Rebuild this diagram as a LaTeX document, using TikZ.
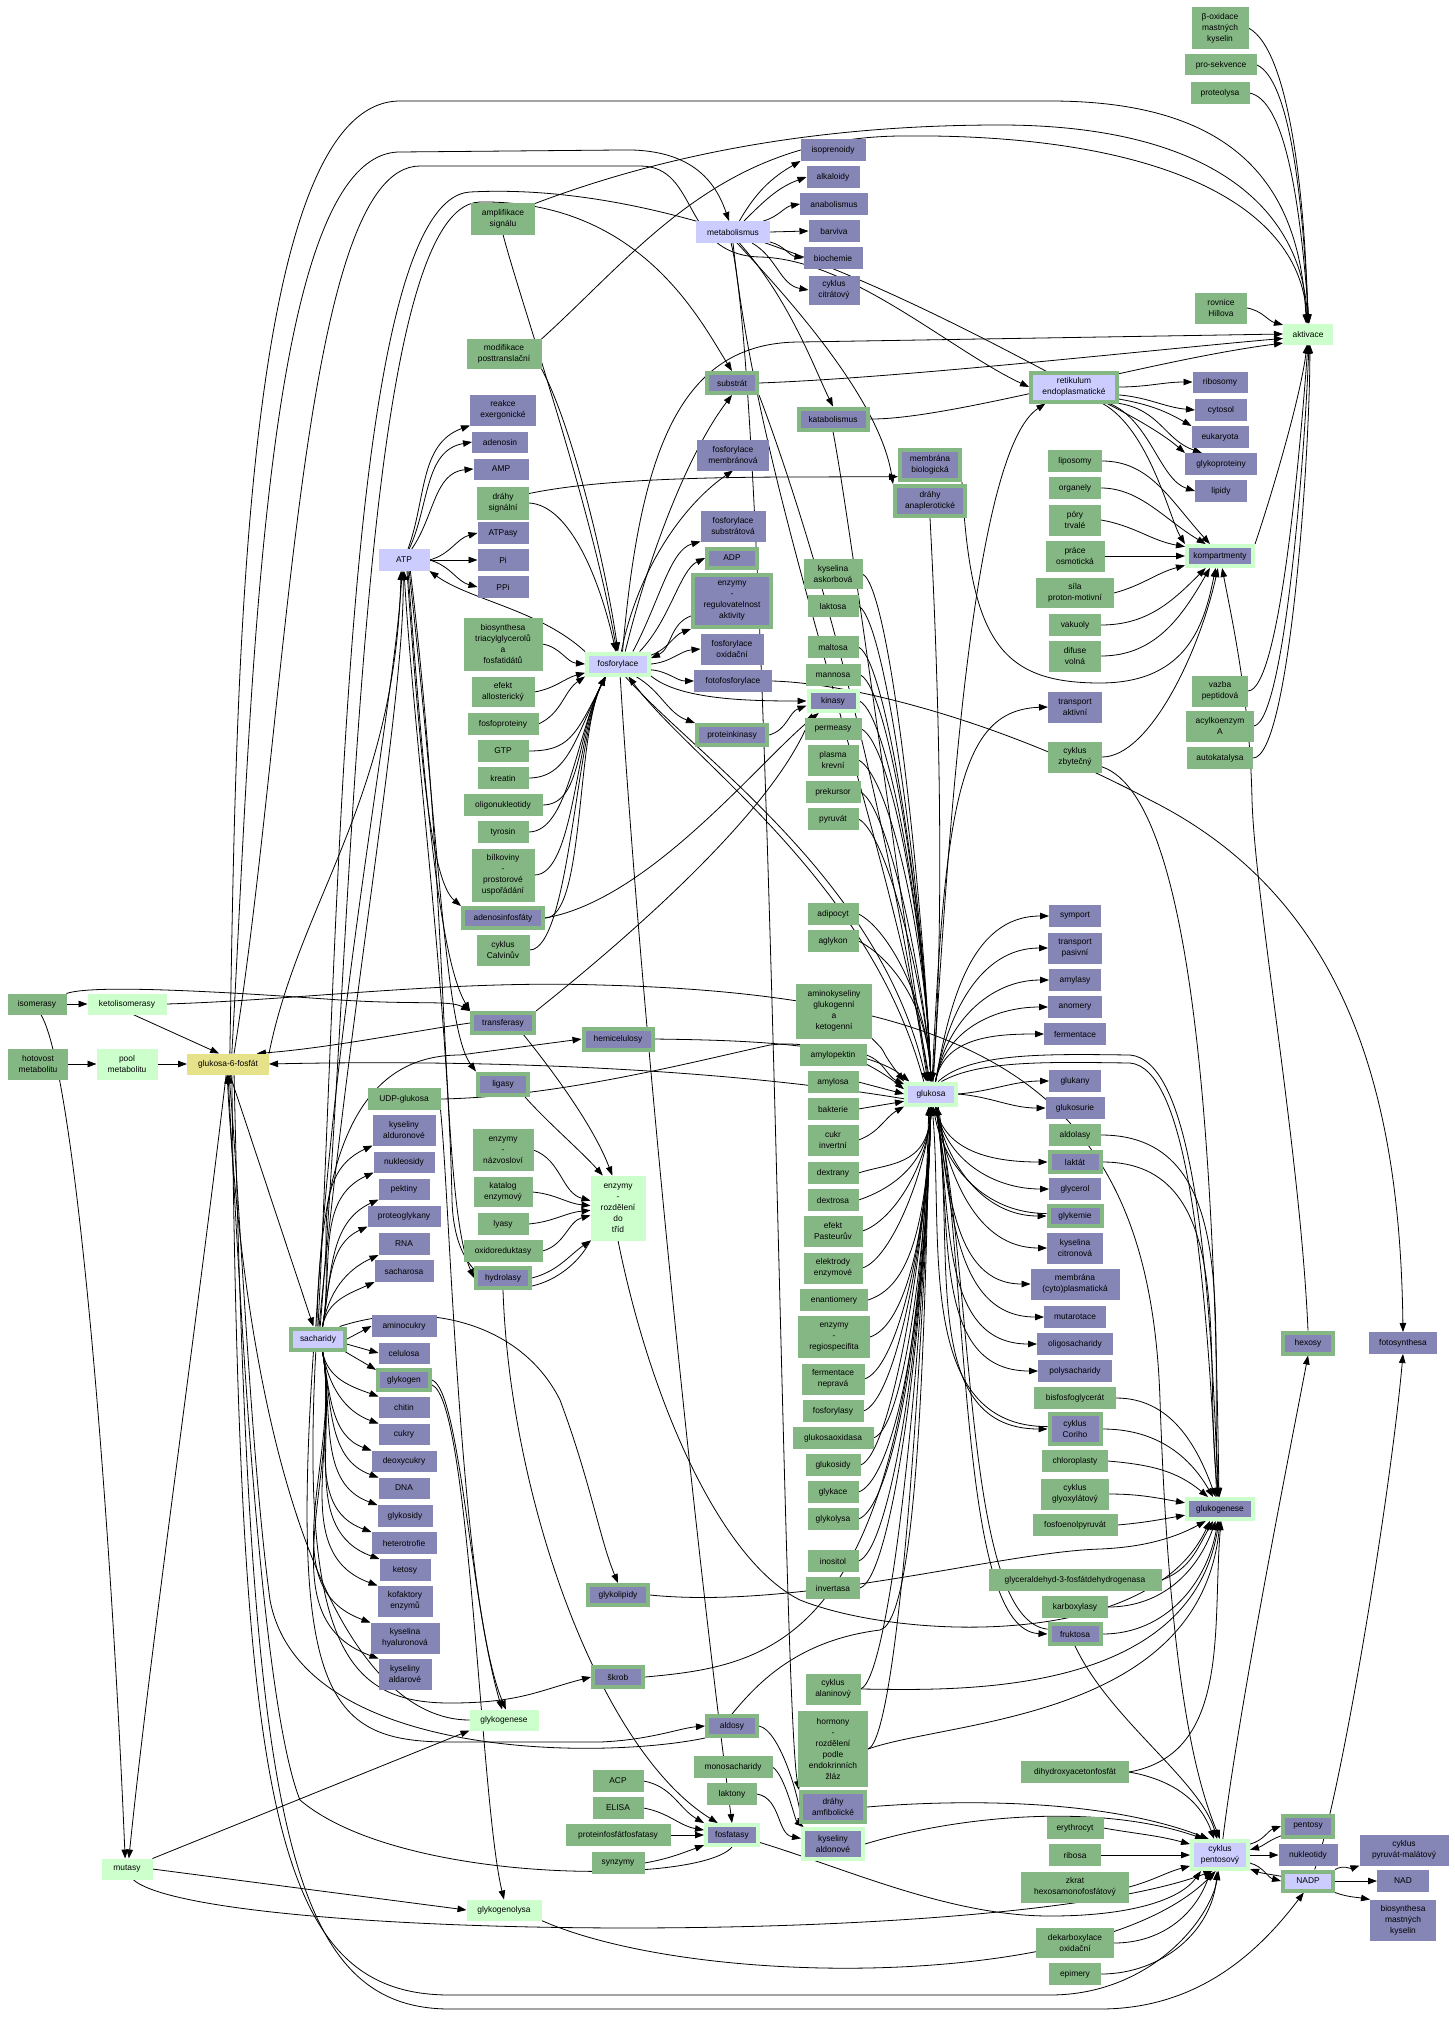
\documentclass[tikz,border=0pt]{standalone}
\usepackage{fontspec}
\setmainfont{Liberation Sans}
\usetikzlibrary{arrows.meta}
\definecolor{cG}{RGB}{133,183,133}
\definecolor{cP}{RGB}{133,133,182}
\definecolor{cL}{RGB}{204,204,255}
\definecolor{cPG}{RGB}{204,255,204}
\definecolor{cY}{RGB}{230,226,138}
\newcommand\nf{\fontsize{8.4}{11}\selectfont}
\newcommand\nd[7]{\node[#6,minimum width=#4pt,minimum height=#5pt] (#1) at (#2,-#3) {#7};}
\newcommand\ndb[7]{\node[#6,minimum width={#4pt-4pt},minimum height={#5pt-4pt}] (#1) at (#2,-#3) {#7};}
\pgfdeclarelayer{edges}
\pgfsetlayers{edges,main}
\tikzset{
 nb/.style={inner sep=0pt,outer sep=0pt,font=\nf,align=center,text=black},
 gn/.style={nb,fill=cG},
 pn/.style={nb,fill=cP},
 ln/.style={nb,fill=cL},
 pgn/.style={nb,fill=cPG},
 yn/.style={nb,fill=cY},
 bG/.style={draw=cG,line width=4pt,outer sep=2pt},
 bPG/.style={draw=cPG,line width=4pt,outer sep=2pt},
 edg/.style={draw=black,line width=0.8pt,-{Triangle[length=9pt,width=6.5pt]}},
}
\begin{document}
\begin{tikzpicture}[x=1pt,y=1pt]
\useasboundingbox (0,0) rectangle (1455,-2020);
% ---------- nodes ----------
\nd{beta}{1220}{28}{57}{42}{gn}{β-oxidace\\mastných\\kyselin}
\nd{prosek}{1221}{65}{72}{21}{gn}{pro-sekvence}
\nd{proteol}{1220}{93}{59}{22}{gn}{proteolysa}
\nd{rovnice}{1221}{308}{52}{31}{gn}{rovnice\\Hillova}
\nd{aktivace}{1308}{334}{50}{21}{pgn}{aktivace}
\ndb{retik}{1074}{387}{90}{33}{ln,bG}{retikulum\\endoplasmatické}
\nd{ribosomy}{1220}{382}{55}{21}{pn}{ribosomy}
\nd{cytosol}{1221}{410}{52}{22}{pn}{cytosol}
\nd{eukaryota}{1220}{437}{57}{22}{pn}{eukaryota}
\nd{glykoprot}{1221}{464}{72}{22}{pn}{glykoproteiny}
\nd{lipidy}{1221}{491}{52}{22}{pn}{lipidy}
\nd{liposomy}{1075}{461}{54}{22}{gn}{liposomy}
\nd{organely}{1075}{488}{52}{22}{gn}{organely}
\nd{pory}{1075}{520}{52}{31}{gn}{póry\\trvalé}
\nd{prace}{1075}{556}{59}{31}{gn}{práce\\osmotická}
\nd{sila}{1075}{593}{78}{30}{gn}{síla\\proton-motivní}
\nd{vakuoly}{1075}{625}{52}{22}{gn}{vakuoly}
\nd{difuse}{1075}{656}{52}{31}{gn}{difuse\\volná}
\ndb{kompart}{1220}{556}{70}{24}{pn,bPG}{kompartmenty}
\nd{transakt}{1075}{707}{54}{31}{pn}{transport\\aktivní}
\nd{cyklzbyt}{1075}{757}{54}{31}{gn}{cyklus\\zbytečný}
\nd{vazba}{1220}{691}{56}{31}{gn}{vazba\\peptidová}
\nd{acyl}{1220}{726}{68}{31}{gn}{acylkoenzym\\A}
\nd{autokat}{1220}{758}{66}{22}{gn}{autokatalysa}
\nd{symport}{1075}{916}{52}{22}{pn}{symport}
\nd{transpas}{1075}{948}{54}{31}{pn}{transport\\pasivní}
\nd{amylasy}{1075}{980}{52}{22}{pn}{amylasy}
\nd{anomery}{1075}{1007}{54}{22}{pn}{anomery}
\nd{fermentace}{1075}{1034}{62}{22}{pn}{fermentace}
\nd{glukany}{1075}{1081}{52}{22}{pn}{glukany}
\nd{glukosurie}{1075}{1108}{59}{22}{pn}{glukosurie}
\nd{aldolasy}{1075}{1135}{52}{22}{gn}{aldolasy}
\ndb{laktat}{1075}{1162}{55}{24}{pn,bG}{laktát}
\nd{glycerol}{1075}{1189}{52}{22}{pn}{glycerol}
\ndb{glykemie}{1075}{1216}{57}{24}{pn,bG}{glykemie}
\nd{kyscitr}{1075}{1248}{56}{31}{pn}{kyselina\\citronová}
\nd{membcyto}{1075}{1284}{89}{31}{pn}{membrána\\(cyto)plasmatická}
\nd{mutarot}{1075}{1317}{62}{22}{pn}{mutarotace}
\nd{oligosach}{1075}{1344}{76}{22}{pn}{oligosacharidy}
\nd{polysach}{1075}{1371}{74}{22}{pn}{polysacharidy}
\nd{bisfos}{1075}{1398}{82}{22}{gn}{bisfosfoglycerát}
\ndb{coriho}{1075}{1429}{55}{34}{pn,bG}{cyklus\\Coriho}
\nd{chloro}{1075}{1461}{66}{22}{gn}{chloroplasty}
\nd{glyox}{1075}{1494}{68}{31}{gn}{cyklus\\glyoxylátový}
\nd{fosfoenol}{1075}{1525}{85}{22}{gn}{fosfoenolpyruvát}
\ndb{glukogenese}{1220}{1509}{70}{24}{pn,bPG}{glukogenese}
\nd{glycerald}{1075}{1580}{173}{22}{gn}{glyceraldehyd-3-fosfátdehydrogenasa}
\nd{karbox}{1075}{1607}{66}{22}{gn}{karboxylasy}
\ndb{fruktosa}{1075}{1634}{55}{24}{pn,bG}{fruktosa}
\nd{dihydroxy}{1075}{1772}{108}{22}{gn}{dihydroxyacetonfosfát}
\nd{erythro}{1075}{1828}{57}{22}{gn}{erythrocyt}
\nd{ribosa}{1075}{1855}{52}{22}{gn}{ribosa}
\nd{zkrat}{1075}{1887}{108}{31}{gn}{zkrat\\hexosamonofosfátový}
\nd{dekarb}{1075}{1943}{78}{30}{gn}{dekarboxylace\\oxidační}
\nd{epimery}{1075}{1974}{52}{22}{gn}{epimery}
\ndb{cpent}{1220}{1855}{60}{32}{ln,bPG}{cyklus\\pentosový}
\ndb{pentosy}{1308}{1826}{54}{25}{pn,bG}{pentosy}
\nd{nukleotidy}{1308}{1855}{59}{22}{pn}{nukleotidy}
\ndb{NADP}{1308}{1881}{54}{23}{ln,bG}{NADP}
\nd{pyrmal}{1404}{1850}{89}{31}{pn}{cyklus\\pyruvát-malátový}
\nd{NAD}{1403}{1881}{52}{22}{pn}{NAD}
\nd{biosmast}{1403}{1920}{66}{41}{pn}{biosynthesa\\mastných\\kyselin}
\ndb{hexosy}{1308}{1343}{54}{25}{pn,bG}{hexosy}
\nd{fotosyn}{1403}{1343}{68}{22}{pn}{fotosynthesa}
% column 833
\nd{isopren}{833}{150}{65}{22}{pn}{isoprenoidy}
\nd{alkaloidy}{833}{177}{53}{22}{pn}{alkaloidy}
\nd{anabol}{834}{204}{68}{22}{pn}{anabolismus}
\nd{barviva}{834}{231}{51}{22}{pn}{barviva}
\nd{biochemie}{833}{258}{59}{22}{pn}{biochemie}
\nd{cyklcitr}{834}{290}{51}{29}{pn}{cyklus\\citrátový}
\ndb{katabol}{833}{419}{73}{25}{pn,bG}{katabolismus}
\nd{kysask}{833}{574}{59}{30}{gn}{kyselina\\askorbová}
\nd{laktosa}{833}{606}{51}{22}{gn}{laktosa}
\nd{maltosa}{833}{647}{51}{22}{gn}{maltosa}
\nd{mannosa}{833}{675}{55}{22}{gn}{mannosa}
\ndb{kinasy}{833}{701}{53}{24}{pn,bPG}{kinasy}
\nd{permeasy}{833}{729}{57}{22}{gn}{permeasy}
\nd{plasma}{833}{760}{51}{31}{gn}{plasma\\krevní}
\nd{prekursor}{833}{792}{55}{22}{gn}{prekursor}
\nd{pyruvat}{833}{819}{51}{22}{gn}{pyruvát}
\nd{adipocyt}{833}{914}{51}{22}{gn}{adipocyt}
\nd{aglykon}{833}{941}{51}{22}{gn}{aglykon}
\nd{aminok}{834}{1011}{76}{55}{gn}{aminokyseliny\\glukogenní\\a\\ketogenní}
\nd{amylopektin}{833}{1055}{67}{22}{gn}{amylopektin}
\nd{amylosa}{833}{1082}{51}{22}{gn}{amylosa}
\nd{bakterie}{833}{1109}{51}{22}{gn}{bakterie}
\nd{cukrinv}{833}{1140}{51}{31}{gn}{cukr\\invertní}
\nd{dextrany}{833}{1173}{51}{22}{gn}{dextrany}
\nd{dextrosa}{833}{1200}{51}{22}{gn}{dextrosa}
\nd{pasteur}{833}{1231}{59}{31}{gn}{efekt\\Pasteurův}
\nd{elektrody}{833}{1268}{59}{31}{gn}{elektrody\\enzymové}
\nd{enantio}{834}{1300}{68}{22}{gn}{enantiomery}
\nd{regiospec}{834}{1337}{72}{42}{gn}{enzymy\\-\\regiospecifita}
\nd{fermnepr}{833}{1379}{63}{31}{gn}{fermentace\\nepravá}
\nd{fosforylasy}{833}{1411}{61}{22}{gn}{fosforylasy}
\nd{glukosaox}{833}{1438}{81}{22}{gn}{glukosaoxidasa}
\nd{glukosidy}{833}{1465}{55}{22}{gn}{glukosidy}
\nd{glykace}{833}{1492}{51}{22}{gn}{glykace}
\nd{glykolysa}{833}{1519}{51}{22}{gn}{glykolysa}
\nd{inositol}{833}{1561}{51}{22}{gn}{inositol}
\nd{invertasa}{833}{1588}{54}{22}{gn}{invertasa}
\nd{cyklalan}{833}{1689}{55}{31}{gn}{cyklus\\alaninový}
\nd{hormony}{833}{1749}{70}{76}{gn}{hormony\\-\\rozdělení\\podle\\endokrinních\\žláz}
\ndb{drahyamf}{833}{1807}{68}{34}{pn,bG}{dráhy\\amfibolické}
\ndb{kysaldon}{833}{1844}{64}{34}{pn,bPG}{kyseliny\\aldonové}
% column 931
\ndb{glukosa}{931}{1094}{54}{25}{ln,bPG}{glukosa}
\ndb{membrbio}{930}{465}{64}{34}{pn,bG}{membrána\\biologická}
\ndb{drahyana}{930}{501}{74}{34}{pn,bG}{dráhy\\anaplerotické}
% column 733
\nd{metabol}{733}{232}{74}{22}{ln}{metabolismus}
\ndb{substrat}{732}{383}{54}{24}{pn,bG}{substrát}
\nd{fmemb}{733}{455}{72}{31}{pn}{fosforylace\\membránová}
\nd{fsubst}{733}{526}{65}{31}{pn}{fosforylace\\substrátová}
\ndb{ADP}{732}{558}{54}{23}{pn,bG}{ADP}
\ndb{enzreg}{732}{601}{82}{56}{pn,bG}{enzymy\\-\\regulovatelnost\\aktivity}
\nd{foxid}{732}{649}{63}{31}{pn}{fosforylace\\oxidační}
\nd{fotofos}{733}{681}{78}{22}{pn}{fotofosforylace}
\ndb{protkin}{732}{735}{74}{24}{pn,bG}{proteinkinasy}
\ndb{aldosy}{732}{1726}{54}{24}{pn,bG}{aldosy}
\nd{monosach}{733}{1767}{79}{22}{gn}{monosacharidy}
\nd{laktony}{732}{1794}{50}{22}{gn}{laktony}
\ndb{fosfatasy}{732}{1835}{56}{24}{pn,bPG}{fosfatasy}
% column 618
\ndb{fos}{618}{664}{66}{25}{ln,bPG}{fosforylace}
\ndb{hemicel}{618}{1039}{73}{25}{pn,bG}{hemicelulosy}
\nd{ettrid}{618}{1208}{55}{65}{pgn}{enzymy\\-\\rozdělení\\do\\tříd}
\ndb{glykolip}{618}{1595}{64}{24}{pn,bG}{glykolipidy}
\ndb{skrob}{618}{1677}{54}{24}{pn,bG}{škrob}
\nd{ACP}{618}{1781}{51}{22}{gn}{ACP}
\nd{ELISA}{618}{1808}{51}{22}{gn}{ELISA}
\nd{protfosf}{618}{1835}{105}{22}{gn}{proteinfosfátfosfatasy}
\nd{synzymy}{618}{1863}{53}{22}{gn}{synzymy}
% column 503
\nd{amplif}{503}{219}{64}{31}{gn}{amplifikace\\signálu}
\nd{modif}{504}{354}{75}{30}{gn}{modifikace\\posttranslační}
\nd{reakce}{503}{410}{66}{31}{pn}{reakce\\exergonické}
\nd{adenosin}{500}{442}{56}{21}{pn}{adenosin}
\nd{AMP}{501}{469}{55}{21}{pn}{AMP}
\nd{drahysig}{503}{503}{52}{33}{gn}{dráhy\\signální}
\nd{ATPasy}{503}{533}{51}{22}{pn}{ATPasy}
\nd{Pi}{503}{560}{51}{22}{pn}{Pi}
\nd{PPi}{503}{587}{51}{22}{pn}{PPi}
\nd{biosyntri}{503}{644}{79}{53}{gn}{biosynthesa\\triacylglycerolů\\a\\fosfatidátů}
\nd{efallo}{503}{692}{63}{30}{gn}{efekt\\allosterický}
\nd{fosfoprot}{503}{724}{71}{22}{gn}{fosfoproteiny}
\nd{GTP}{503}{751}{51}{22}{gn}{GTP}
\nd{kreatin}{503}{778}{51}{22}{gn}{kreatin}
\nd{oligonuk}{503}{805}{79}{22}{gn}{oligonukleotidy}
\nd{tyrosin}{503}{832}{51}{22}{gn}{tyrosin}
\nd{bilkoviny}{503}{875}{63}{53}{gn}{bílkoviny\\-\\prostorové\\uspořádání}
\ndb{adenfosf}{503}{918}{84}{24}{pn,bG}{adenosinfosfáty}
\nd{calvin}{503}{950}{53}{31}{gn}{cyklus\\Calvinův}
\ndb{transf}{503}{1023}{66}{24}{pn,bG}{transferasy}
\ndb{ligasy}{503}{1084}{54}{25}{pn,bG}{ligasy}
\nd{enznaz}{503}{1150}{61}{42}{gn}{enzymy\\-\\názvosloví}
\nd{katalog}{503}{1192}{59}{30}{gn}{katalog\\enzymový}
\nd{lyasy}{503}{1224}{51}{22}{gn}{lyasy}
\nd{oxidored}{503}{1251}{79}{22}{gn}{oxidoreduktasy}
\ndb{hydrol}{503}{1278}{58}{24}{pn,bG}{hydrolasy}
\nd{glykogenese}{504}{1720}{69}{21}{pgn}{glykogenese}
\nd{glykogenolysa}{504}{1910}{75}{21}{pgn}{glykogenolysa}
% column 404
\nd{ATP}{404}{560}{51}{22}{ln}{ATP}
\nd{UDP}{404}{1099}{73}{22}{gn}{UDP-glukosa}
\nd{kysaldur}{404}{1130}{63}{31}{pn}{kyseliny\\alduronové}
\nd{nukleosidy}{404}{1162}{61}{21}{pn}{nukleosidy}
\nd{pektiny}{404}{1189}{51}{21}{pn}{pektiny}
\nd{proteogl}{404}{1216}{73}{21}{pn}{proteoglykany}
\nd{RNA}{404}{1244}{51}{22}{pn}{RNA}
\nd{sacharosa}{404}{1271}{59}{22}{pn}{sacharosa}
\nd{aminocukry}{404}{1326}{65}{22}{pn}{aminocukry}
\nd{celulosa}{404}{1353}{51}{21}{pn}{celulosa}
\ndb{glykogen}{404}{1380}{56}{24}{pn,bG}{glykogen}
\nd{chitin}{404}{1407}{51}{21}{pn}{chitin}
\nd{cukry}{404}{1434}{51}{21}{pn}{cukry}
\nd{deoxycukry}{404}{1461}{65}{21}{pn}{deoxycukry}
\nd{DNA}{404}{1488}{51}{21}{pn}{DNA}
\nd{glykosidy}{405}{1516}{55}{22}{pn}{glykosidy}
\nd{heterotrofie}{404}{1543}{65}{22}{pn}{heterotrofie}
\nd{ketosy}{405}{1570}{51}{22}{pn}{ketosy}
\nd{kofaktory}{405}{1601}{55}{31}{pn}{kofaktory\\enzymů}
\nd{hyaluron}{405}{1638}{69}{31}{pn}{kyselina\\hyaluronová}
\nd{aldarove}{405}{1674}{53}{31}{pn}{kyseliny\\aldarové}
% left
\ndb{sacharidy}{318}{1339}{58}{25}{ln,bG}{sacharidy}
\nd{g6f}{228}{1064}{82}{21}{yn}{glukosa-6-fosfát}
\nd{ketoliso}{127}{1004}{79}{21}{pgn}{ketolisomerasy}
\nd{pool}{127}{1064}{61}{31}{pgn}{pool\\metabolitu}
\nd{mutasy}{127}{1869}{51}{21}{pgn}{mutasy}
\nd{isomerasy}{37}{1004}{59}{21}{gn}{isomerasy}
\nd{hotovost}{38}{1064}{60}{31}{gn}{hotovost\\metabolitu}
% ---------- edges ----------
\begin{pgfonlayer}{edges}
\fill[white] (0,0) rectangle (1455,-2020);
% left cluster
\draw[edg] (isomerasy) -- (ketoliso);
\draw[edg] (hotovost) -- (pool);
\draw[edg] (pool) -- (g6f);
\draw[edg] (ketoliso.-60) -- (g6f.130);
\draw[edg] (isomerasy.-70) .. controls (75,-1070) and (110,-1500) .. (mutasy.100);
\draw[edg] (g6f.-100) .. controls (200,-1300) and (150,-1650) .. (mutasy.80);
\draw[edg] (mutasy.north east) -- (glykogenese.south west);
\draw[edg] (mutasy.east) -- (glykogenolysa.west);
\draw[edg] (mutasy.-60) .. controls (200,-1940) and (1000,-1950) .. (cpent.-115);
\draw[edg] (isomerasy.north east) .. controls (90,-985) and (200,-990) .. (340,-1000) .. controls (420,-1005) and (450,-1000) .. (transf.160);
\draw[edg] (ketoliso.east) .. controls (300,-1000) and (450,-980) .. (600,-985) .. controls (1000,-995) and (1150,-1100) .. (1160,-1400) .. controls (1170,-1700) and (1200,-1790) .. (cpent.north);
% g6f long
\draw[edg] (g6f.-80) -- (sacharidy.110);
\draw[edg] (g6f.80) .. controls (236,-700) and (240,-101) .. (400,-101) -- (1050,-101) .. controls (1230,-101) and (1300,-180) .. (aktivace.100);
\draw[edg] (g6f.70) .. controls (252,-700) and (262,-152) .. (400,-152) -- (620,-150) .. controls (690,-148) and (715,-180) .. (metabol.110);
\draw[edg] (g6f.60) .. controls (290,-700) and (300,-166) .. (420,-166) -- (640,-166) .. controls (700,-166) and (680,-255) .. (760,-257) .. controls (850,-259) and (950,-350) .. (retik.west);
\draw[edg] (glukosa.190) .. controls (700,-1065) and (450,-1060) .. (g6f.east);
\draw[edg] (transf.west) .. controls (420,-1030) and (330,-1048) .. (g6f.20);
\draw[edg] (g6f.-60) .. controls (250,-1800) and (280,-2009) .. (450,-2009) -- (1100,-2009) .. controls (1200,-2009) and (1260,-1950) .. (NADP.-110);
\draw[edg] (g6f.-70) .. controls (240,-1800) and (270,-1995) .. (450,-1995) -- (1050,-1995) .. controls (1150,-1995) and (1210,-1920) .. (cpent.-95);
\draw[edg] (glykogenese.west) .. controls (350,-1720) and (250,-1500) .. (g6f.-95);
\draw[edg] (fosfatasy.south) .. controls (700,-1885) and (400,-1885) .. (300,-1800) .. controls (260,-1700) and (240,-1300) .. (g6f.-90);
\draw[edg] (aldosy.south west) .. controls (600,-1760) and (300,-1760) .. (270,-1600) .. controls (250,-1450) and (240,-1200) .. (g6f.-85);
% sacharidy
\draw[edg] (sacharidy.north) .. controls (340,-900) and (345,-200) .. (470,-192) .. controls (700,-180) and (950,-320) .. (1100,-400) .. controls (1150,-425) and (1170,-440) .. (glykoprot.north west);
\draw[edg] (sacharidy.80) .. controls (355,-900) and (360,-205) .. (480,-202) .. controls (640,-200) and (700,-320) .. (substrat.north);
\foreach \cc in {kysaldur,nukleosidy,pektiny,proteogl,RNA,sacharosa} \draw[edg] (sacharidy.70) to[out=80,in=205] (\cc.south west);
\draw[edg] (sacharidy.east) -- (aminocukry.west);
\draw[edg] (sacharidy.-10) -- (celulosa.west);
\draw[edg] (sacharidy.-25) -- (glykogen.160);
\foreach \cc in {chitin,cukry,deoxycukry,DNA,glykosidy,heterotrofie,ketosy,kofaktory,hyaluron,aldarove} \draw[edg] (sacharidy.-70) to[out=-80,in=160] (\cc.north west);
\draw[edg] (sacharidy.-100) .. controls (300,-1650) and (350,-1703) .. (450,-1703) .. controls (520,-1703) and (540,-1690) .. (skrob.west);
\draw[edg] (sacharidy.-110) .. controls (290,-1700) and (330,-1742) .. (450,-1742) -- (600,-1742) .. controls (650,-1740) and (680,-1728) .. (aldosy.west);
\draw[edg] (sacharidy.30) .. controls (420,-1300) and (520,-1320) .. (560,-1400) .. controls (590,-1480) and (600,-1540) .. (glykolip.north);
\draw[edg] (sacharidy.95) .. controls (320,-1150) and (360,-1055) .. (460,-1055) -- (hemicel.west);
\draw[edg] (UDP.east) .. controls (560,-1097) and (700,-1060) .. (770,-1045) .. controls (830,-1038) and (880,-1070) .. (glukosa.170);
\draw[edg] (UDP.south east) .. controls (450,-1200) and (460,-1600) .. (glykogenese.80);
\draw[edg] (glykogen.east) .. controls (460,-1390) and (470,-1600) .. (glykogenese.100);
\draw[edg] (glykogen.-10) .. controls (470,-1400) and (480,-1800) .. (glykogenolysa.north);
% ATP
\draw[edg] (ATP.70) to[out=70,in=200] (reakce.south west);
\draw[edg] (ATP.65) to[out=65,in=190] (adenosin.west);
\draw[edg] (ATP.55) to[out=55,in=185] (AMP.west);
\draw[edg] (ATP.east) to[out=15,in=195] (ATPasy.west);
\draw[edg] (ATP) -- (Pi);
\draw[edg] (ATP.east) to[out=-15,in=165] (PPi.west);
\draw[edg] (ATP.-75) .. controls (420,-750) and (430,-880) .. (adenfosf.north west);
\draw[edg] (ATP.-70) .. controls (425,-800) and (440,-960) .. (transf.north west);
\draw[edg] (ATP.-65) .. controls (440,-850) and (445,-1030) .. (ligasy.north west);
\draw[edg] (ATP.-60) .. controls (450,-900) and (440,-1200) .. (hydrol.west);
\draw[edg] (fos.north west) .. controls (540,-610) and (470,-600) .. (ATP.south east);
\draw[edg] (sacharidy.100) .. controls (335,-1000) and (395,-700) .. (ATP.-100);
\draw[edg] (sacharidy.85) .. controls (350,-1000) and (405,-700) .. (ATP.-95);
\draw[edg] (g6f.north east) .. controls (300,-900) and (395,-800) .. (ATP.-105);
\draw[edg] (ettrid.south west) .. controls (560,-1300) and (455,-1320) .. (452,-1200) .. controls (448,-1000) and (415,-750) .. (ATP.-90);
% drahy signalni, amplif, modif
\draw[edg] (drahysig.east) .. controls (570,-505) and (600,-580) .. (fos.100);
\draw[edg] (drahysig.20) .. controls (570,-485) and (640,-477) .. (800,-477) -- (membrbio.200);
\draw[edg] (amplif.south) .. controls (520,-300) and (590,-500) .. (fos.95);
\draw[edg] (modif.south east) .. controls (570,-420) and (605,-560) .. (fos.north);
\draw[edg] (amplif.north east) .. controls (650,-160) and (800,-125) .. (1000,-125) .. controls (1200,-125) and (1300,-200) .. (aktivace.north);
\draw[edg] (modif.north east) .. controls (640,-250) and (720,-138) .. (900,-136) .. controls (1150,-133) and (1300,-200) .. (aktivace.95);
% fosforylace incoming
\draw[edg] (biosyntri.east) to[out=-10,in=175] (fos.west);
\draw[edg] (efallo.east) to[out=10,in=195] (fos.195);
\draw[edg] (fosfoprot.east) to[out=25,in=215] (fos.south west);
\foreach \cc in {GTP,kreatin,oligonuk,tyrosin,bilkoviny,adenfosf,calvin} \draw[edg] (\cc.east) .. controls +(40,0) and +(-30,-60) .. (fos.-135);
% fosforylace outgoing
\draw[edg] (fos.40) .. controls (660,-600) and (670,-550) .. (fsubst.south west);
\draw[edg] (fos.30) .. controls (670,-620) and (680,-570) .. (ADP.west);
\draw[edg] (fos.15) to[out=20,in=200] (enzreg.south west);
\draw[edg] (enzreg.200) to[out=200,in=25] (fos.10);
\draw[edg] (fos.east) to[out=5,in=185] (foxid.west);
\draw[edg] (fos.-10) to[out=-5,in=180] (fotofos.west);
\draw[edg] (fos.-20) .. controls (680,-700) and (750,-701) .. (kinasy.west);
\draw[edg] (fos.-35) to[out=-30,in=160] (protkin.north west);
\draw[edg] (fos.60) .. controls (650,-550) and (690,-450) .. (substrat.south);
\draw[edg] (fos.75) .. controls (640,-560) and (690,-500) .. (fmemb.south);
\draw[edg] (fos.-60) .. controls (700,-760) and (880,-880) .. (glukosa.110);
\draw[edg] (glukosa.120) .. controls (870,-880) and (690,-760) .. (fos.-50);
\draw[edg] (fos.-80) .. controls (640,-1000) and (690,-1500) .. (fosfatasy.north);
\draw[edg] (fos.70) .. controls (640,-450) and (680,-342) .. (800,-342) -- (aktivace.west);
\draw[edg] (katabol.east) .. controls (950,-420) and (1150,-360) .. (aktivace.200);
\draw[edg] (substrat.east) .. controls (900,-378) and (1150,-350) .. (aktivace.190);
\draw[edg] (protkin.east) to[out=15,in=200] (kinasy.190);
\draw[edg] (transf.north east) .. controls (600,-960) and (770,-820) .. (kinasy.-150);
\draw[edg] (adenfosf.east) .. controls (650,-900) and (760,-760) .. (kinasy.-140);
\draw[edg] (fotofos.east) .. controls (850,-683) and (1000,-720) .. (1150,-800) .. controls (1350,-900) and (1400,-1100) .. (fotosyn.north);
% metabolismus
\draw[edg] (metabol.60) to[out=60,in=210] (isopren.south west);
\draw[edg] (metabol.45) to[out=45,in=200] (alkaloidy.west);
\draw[edg] (metabol.20) to[out=15,in=190] (anabol.west);
\draw[edg] (metabol.east) -- (barviva.west);
\draw[edg] (metabol.-15) to[out=-15,in=170] (biochemie.west);
\draw[edg] (metabol.-30) to[out=-30,in=170] (cyklcitr.west);
\draw[edg] (metabol.-60) .. controls (790,-300) and (815,-370) .. (katabol.north);
\draw[edg] (metabol.-70) .. controls (790,-300) and (880,-400) .. (drahyana.north west);
\draw[edg] (metabol.-100) .. controls (770,-400) and (782,-1700) .. (drahyamf.north west);
\draw[edg] (metabol.-90) .. controls (760,-500) and (880,-800) .. (glukosa.95);
\draw[edg] (glukosa.80) .. controls (950,-800) and (975,-450) .. (retik.-150);
\draw[edg] (katabol.south) .. controls (850,-520) and (900,-900) .. (glukosa.100);
\draw[edg] (substrat.south east) .. controls (780,-450) and (870,-700) .. (glukosa.105);
\draw[edg] (drahyana.south) .. controls (945,-800) and (940,-1000) .. (glukosa.85);
\draw[edg] (membrbio.south east) .. controls (970,-640) and (1000,-683) .. (1100,-683) .. controls (1190,-683) and (1205,-620) .. (kompart.-110);
% retikulum
\draw[edg] (retik.east) to[out=0,in=180] (ribosomy.west);
\draw[edg] (retik.-10) to[out=-5,in=175] (cytosol.west);
\draw[edg] (retik.-15) to[out=-10,in=150] (eukaryota.north west);
\draw[edg] (retik.-20) .. controls (1160,-410) and (1165,-440) .. (glykoprot.150);
\draw[edg] (retik.-25) .. controls (1150,-420) and (1160,-480) .. (lipidy.west);
\draw[edg] (retik.-30) .. controls (1150,-430) and (1170,-520) .. (kompart.north west);
% kompartmenty, aktivace
\draw[edg] (liposomy.east) .. controls (1150,-461) and (1170,-500) .. (kompart.130);
\draw[edg] (organely.east) .. controls (1140,-488) and (1165,-520) .. (kompart.140);
\draw[edg] (pory.east) to[out=-10,in=170] (kompart.165);
\draw[edg] (prace.east) -- (kompart.west);
\draw[edg] (sila.east) to[out=15,in=195] (kompart.195);
\draw[edg] (vakuoly.east) to[out=0,in=225] (kompart.-140);
\draw[edg] (difuse.east) to[out=0,in=240] (kompart.-130);
\draw[edg] (cyklzbyt.east) .. controls (1150,-757) and (1200,-650) .. (kompart.-100);
\draw[edg] (hexosy.north) .. controls (1300,-1150) and (1255,-900) .. (1252,-800) .. controls (1250,-700) and (1232,-620) .. (kompart.-80);
\draw[edg] (kompart.north east) .. controls (1270,-500) and (1300,-400) .. (aktivace.-95);
\draw[edg] (vazba.east) .. controls (1280,-690) and (1300,-450) .. (aktivace.-90);
\draw[edg] (acyl.east) .. controls (1285,-720) and (1305,-450) .. (aktivace.-85);
\draw[edg] (autokat.east) .. controls (1290,-758) and (1310,-450) .. (aktivace.-80);
\draw[edg] (beta.east) .. controls (1290,-50) and (1305,-200) .. (aktivace.90);
\draw[edg] (prosek.east) .. controls (1290,-80) and (1303,-200) .. (aktivace.87);
\draw[edg] (proteol.east) .. controls (1285,-100) and (1300,-200) .. (aktivace.84);
\draw[edg] (rovnice.east) to[out=-10,in=165] (aktivace.160);
\draw[edg] (cyklzbyt.-20) .. controls (1200,-800) and (1215,-1200) .. (glukogenese.95);
% glukosa incoming
\foreach \cc in {kysask,laktosa,maltosa,mannosa,kinasy,permeasy,plasma} \draw[edg] (\cc.east) .. controls +(30,-15) and +(-6,150) .. (glukosa.north);
\foreach \cc in {prekursor,pyruvat,adipocyt,aglykon} \draw[edg] (\cc.east) .. controls +(30,-15) and +(-4,80) .. (glukosa.north);
\draw[edg] (aminok.south east) .. controls +(20,-20) and +(-30,40) .. (glukosa.north west);
\draw[edg] (amylopektin.east) to[out=-20,in=155] (glukosa.160);
\draw[edg] (amylosa.east) -- (glukosa.west);
\draw[edg] (bakterie.east) to[out=10,in=190] (glukosa.195);
\draw[edg] (cukrinv.east) to[out=20,in=210] (glukosa.south west);
\foreach \cc in {dextrany,dextrosa,pasteur,elektrody} \draw[edg] (\cc.east) .. controls +(30,10) and +(-4,-60) .. (glukosa.south);
\foreach \cc in {enantio,regiospec,fermnepr,fosforylasy,glukosaox,glukosidy} \draw[edg] (\cc.east) .. controls +(30,10) and +(-6,-150) .. (glukosa.south);
\foreach \cc in {glykace,glykolysa,inositol,invertasa,cyklalan,hormony} \draw[edg] (\cc.east) .. controls +(30,10) and +(-8,-250) .. (glukosa.south);
\draw[edg] (aldosy.north) .. controls (760,-1680) and (800,-1640) .. (880,-1630) .. controls (920,-1620) and (925,-1300) .. (glukosa.-95);
\draw[edg] (skrob.east) .. controls (780,-1665) and (915,-1640) .. (glukosa.-100);
\draw[edg] (hemicel.east) .. controls (720,-1040) and (860,-1041) .. (glukosa.150);
% glukosa outgoing
\foreach \cc in {symport,transpas,amylasy,anomery,fermentace} \draw[edg] (glukosa.70) to[out=80,in=180] (\cc.west);
\draw[edg] (glukosa.east) to[out=5,in=180] (glukany.west);
\draw[edg] (glukosa.east) to[out=-5,in=180] (glukosurie.west);
\foreach \cc in {laktat,glycerol,glykemie,kyscitr,membcyto,mutarot,oligosach,polysach,coriho} \draw[edg] (glukosa.-70) to[out=-80,in=180] (\cc.west);
\draw[edg] (glykemie.175) to[out=180,in=-80] (glukosa.-80);
\draw[edg] (coriho.175) to[out=180,in=-85] (glukosa.-85);
\draw[edg] (glukosa.-60) .. controls (970,-1300) and (960,-1630) .. (fruktosa.west);
\draw[edg] (fruktosa.170) .. controls (965,-1620) and (975,-1300) .. (glukosa.-65);
\draw[edg] (glukosa.85) .. controls (945,-800) and (960,-710) .. (transakt.west);
\draw[edg] (glukosa.60) .. controls (970,-1052) and (1050,-1054) .. (1130,-1055) .. controls (1190,-1060) and (1210,-1250) .. (glukogenese.100);
\draw[edg] (glukosa.50) .. controls (980,-1060) and (1050,-1062) .. (1130,-1063) .. controls (1185,-1068) and (1205,-1250) .. (glukogenese.105);
% glukogenese incoming
\draw[edg] (aldolasy.east) to[out=0,in=95] (glukogenese.92);
\draw[edg] (laktat.east) to[out=0,in=97] (glukogenese.97);
\draw[edg] (bisfos.east) to[out=0,in=110] (glukogenese.110);
\draw[edg] (coriho.east) to[out=0,in=120] (glukogenese.120);
\draw[edg] (chloro.east) to[out=-5,in=140] (glukogenese.135);
\draw[edg] (glyox.east) to[out=0,in=170] (glukogenese.170);
\draw[edg] (fosfoenol.east) to[out=5,in=190] (glukogenese.190);
\draw[edg] (glycerald.east) to[out=20,in=-120] (glukogenese.-120);
\draw[edg] (karbox.east) to[out=0,in=-110] (glukogenese.-110);
\draw[edg] (fruktosa.east) to[out=0,in=-100] (glukogenese.-100);
\draw[edg] (dihydroxy.east) to[out=10,in=-95] (glukogenese.-85);
\draw[edg] (glykolip.east) .. controls (800,-1610) and (1000,-1552) .. (1100,-1549) .. controls (1150,-1547) and (1180,-1535) .. (glukogenese.-140);
\draw[edg] (cyklalan.east) .. controls (950,-1690) and (1190,-1700) .. (glukogenese.-95);
\draw[edg] (hormony.east) .. controls (950,-1720) and (1200,-1720) .. (glukogenese.-90);
\draw[edg] (ettrid.south) .. controls (650,-1400) and (720,-1560) .. (800,-1600) .. controls (900,-1640) and (1150,-1650) .. (glukogenese.-130);
% cyklus pentosovy
\draw[edg] (erythro.east) to[out=-10,in=165] (cpent.160);
\draw[edg] (ribosa.east) -- (cpent.west);
\draw[edg] (zkrat.east) to[out=15,in=195] (cpent.200);
\draw[edg] (dekarb.east) to[out=0,in=-110] (cpent.-120);
\draw[edg] (epimery.east) to[out=0,in=-95] (cpent.-100);
\draw[edg] (dihydroxy.east) to[out=-10,in=110] (cpent.110);
\draw[edg] (fruktosa.south) .. controls (1110,-1720) and (1200,-1780) .. (cpent.100);
\draw[edg] (drahyamf.east) .. controls (950,-1800) and (1100,-1797) .. (cpent.125);
\draw[edg] (kysaldon.east) .. controls (960,-1815) and (1100,-1803) .. (cpent.135);
\draw[edg] (glykogenolysa.south east) .. controls (700,-1990) and (1100,-1990) .. (cpent.-105);
\draw[edg] (fosfatasy.-15) .. controls (850,-1870) and (950,-1916) .. (1050,-1916) .. controls (1130,-1916) and (1180,-1900) .. (cpent.-140);
\draw[edg] (cpent.20) to[out=15,in=200] (pentosy.west);
\draw[edg] (pentosy.200) to[out=200,in=15] (cpent.10);
\draw[edg] (cpent.east) -- (nukleotidy.west);
\draw[edg] (cpent.-15) to[out=-15,in=165] (NADP.west);
\draw[edg] (NADP.170) to[out=170,in=-20] (cpent.-25);
\draw[edg] (NADP.north east) to[out=30,in=200] (pyrmal.south west);
\draw[edg] (NADP.east) -- (NAD.west);
\draw[edg] (NADP.south east) to[out=-20,in=170] (biosmast.north west);
\draw[edg] (NADP.60) .. controls (1340,-1800) and (1390,-1500) .. (fotosyn.south);
\draw[edg] (cpent.80) .. controls (1240,-1700) and (1290,-1450) .. (hexosy.south);
% fosfatasy, aldosy
\draw[edg] (ACP.east) to[out=-10,in=150] (fosfatasy.north west);
\draw[edg] (ELISA.east) to[out=-10,in=170] (fosfatasy.170);
\draw[edg] (protfosf.east) -- (fosfatasy.west);
\draw[edg] (synzymy.east) to[out=10,in=200] (fosfatasy.200);
\draw[edg] (hydrol.south) .. controls (510,-1500) and (600,-1750) .. (fosfatasy.140);
\draw[edg] (aldosy.east) .. controls (780,-1730) and (800,-1800) .. (kysaldon.north west);
\draw[edg] (monosach.east) .. controls (785,-1775) and (795,-1820) .. (kysaldon.150);
\draw[edg] (laktony.east) to[out=-10,in=170] (kysaldon.170);
% enzymy trid
\draw[edg] (enznaz.east) to[out=-20,in=165] (ettrid.165);
\draw[edg] (katalog.east) to[out=-5,in=175] (ettrid.175);
\draw[edg] (lyasy.east) to[out=5,in=185] (ettrid.185);
\draw[edg] (oxidored.east) to[out=15,in=195] (ettrid.195);
\draw[edg] (hydrol.east) to[out=15,in=215] (ettrid.south west);
\draw[edg] (transf.-30) .. controls (560,-1080) and (595,-1130) .. (ettrid.100);
\draw[edg] (ligasy.-30) .. controls (545,-1120) and (580,-1150) .. (ettrid.115);
\end{pgfonlayer}
\end{tikzpicture}
\end{document}
